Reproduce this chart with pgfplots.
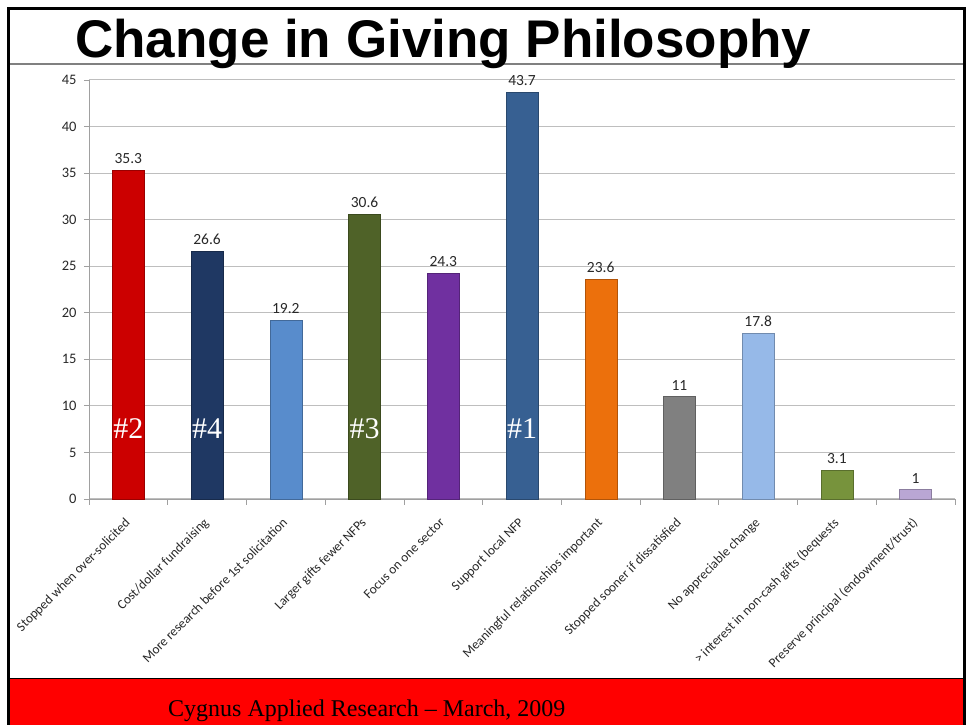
\documentclass[border=0pt]{standalone}
\usepackage{pgfplots}
\pgfplotsset{compat=1.18}
\usepackage{fontspec}
\setmainfont{Carlito}
\newfontfamily\titlefont{Liberation Sans}
\newfontfamily\serifface{Liberation Serif}
\definecolor{cRed}{RGB}{204,0,0}
\definecolor{cNavy}{RGB}{31,56,99}
\definecolor{cMidBlue}{RGB}{88,140,204}
\definecolor{cOlive}{RGB}{79,98,40}
\definecolor{cPurple}{RGB}{112,48,160}
\definecolor{cBlue}{RGB}{55,96,146}
\definecolor{cOrange}{RGB}{236,112,12}
\definecolor{cGray}{RGB}{128,128,128}
\definecolor{cLightBlue}{RGB}{150,185,232}
\definecolor{cGreen}{RGB}{119,147,60}
\definecolor{cLilac}{RGB}{185,166,212}
\definecolor{gridgray}{RGB}{190,190,190}
\definecolor{axisgray}{RGB}{160,160,160}
\definecolor{labelgray}{RGB}{40,40,40}
\definecolor{footred}{RGB}{255,0,0}
\begin{document}
\begin{tikzpicture}
\useasboundingbox (0,0) rectangle (967pt,725pt);
% footer band
\fill[footred] (10pt,0) rectangle (963pt,46pt);
\draw[black, line width=1pt] (10pt,46pt) -- (963pt,46pt);
\node[anchor=base west, inner sep=0pt] at (168pt,8pt) {\serifface\fontsize{24}{24}\selectfont Cygnus Applied Research – March, 2009};
% title separator
\draw[gray, line width=1.2pt] (10pt,661pt) -- (963pt,661pt);
% frame
\draw[black, line width=3pt] (8.5pt,0) -- (8.5pt,716.5pt) -- (964.5pt,716.5pt) -- (964.5pt,0);
\begin{axis}[
  at={(89pt,226pt)}, anchor=south west,
  scale only axis, width=866pt, height=419pt,
  xmin=-0.5, xmax=10.5, ymin=0, ymax=45,
  ytick={0,5,...,45},
  xtick={0,...,10},
  minor xtick={-0.5,0.5,...,10.5},
  xticklabels={Stopped when over-solicited, Cost/dollar fundraising, More research before 1st solicitation, Larger gifts fewer NFPs, Focus on one sector, Support local NFP, Meaningful relationships important, Stopped sooner if dissatisfied, No appreciable change, > interest in non-cash gifts (bequests, Preserve principal (endowment/trust)},
  xticklabel style={rotate=45, anchor=north east, font=\fontsize{13.3}{13.3}\selectfont, text=labelgray, inner sep=1pt, xshift=-11pt, yshift=-5pt},
  yticklabel style={font=\fontsize{14.5}{14.5}\selectfont, text=labelgray, xshift=-4pt},
  /pgf/number format/assume math mode=true,
  axis x line*=bottom, axis y line*=left,
  axis line style={axisgray, line width=0.8pt},
  tick align=outside,
  major x tick style={draw=none},
  minor x tick style={axisgray, line width=0.8pt},
  minor tick length=6pt,
  major y tick style={axisgray, line width=0.8pt},
  major tick length=5pt,
  ymajorgrids,
  grid style={gridgray, line width=1pt},
  ybar, bar width=32pt, bar shift=0pt,
  nodes near coords={\pgfmathprintnumber[fixed,precision=1]{\pgfplotspointmeta}},
  every node near coord/.append style={font=\fontsize{15.5}{15.5}\selectfont, text=labelgray, yshift=3pt},
  clip=false,
]
\addplot[fill=cRed, draw=cRed!75!black] coordinates {(0,35.3)};
\addplot[fill=cNavy, draw=cNavy!75!black] coordinates {(1,26.6)};
\addplot[fill=cMidBlue, draw=cMidBlue!75!black] coordinates {(2,19.2)};
\addplot[fill=cOlive, draw=cOlive!75!black] coordinates {(3,30.6)};
\addplot[fill=cPurple, draw=cPurple!75!black] coordinates {(4,24.3)};
\addplot[fill=cBlue, draw=cBlue!75!black] coordinates {(5,43.7)};
\addplot[fill=cOrange, draw=cOrange!75!black] coordinates {(6,23.6)};
\addplot[fill=cGray, draw=cGray!75!black] coordinates {(7,11)};
\addplot[fill=cLightBlue, draw=cLightBlue!75!black] coordinates {(8,17.8)};
\addplot[fill=cGreen, draw=cGreen!75!black] coordinates {(9,3.1)};
\addplot[fill=cLilac, draw=cLilac!75!black] coordinates {(10,1)};
\node[text=white, font=\serifface\fontsize{30}{30}\selectfont] at (axis cs:0,7.6) {\#2};
\node[text=white, font=\serifface\fontsize{30}{30}\selectfont] at (axis cs:1,7.6) {\#4};
\node[text=white, font=\serifface\fontsize{30}{30}\selectfont] at (axis cs:3,7.6) {\#3};
\node[text=white, font=\serifface\fontsize{30}{30}\selectfont] at (axis cs:5,7.6) {\#1};
\end{axis}
\node[anchor=base west, inner sep=0pt] at (75pt,667pt) {\titlefont\bfseries\fontsize{53}{53}\selectfont Change in Giving Philosophy};
\end{tikzpicture}
\end{document}
